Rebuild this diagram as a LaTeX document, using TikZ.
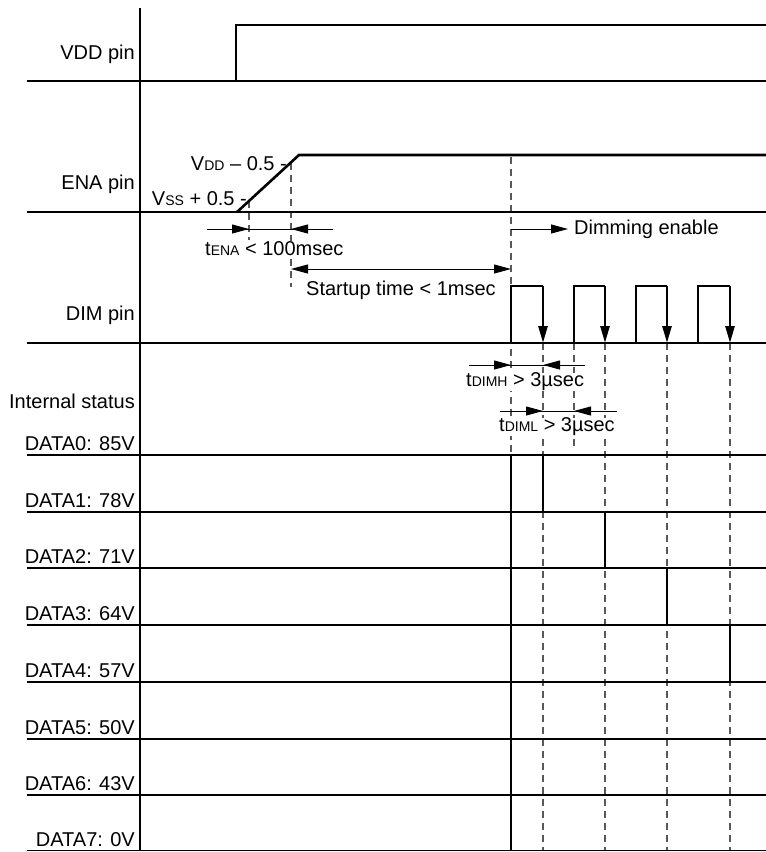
\documentclass[tikz,border=0pt]{standalone}
\usepackage{fontspec}
\setmainfont{Liberation Sans}
\usetikzlibrary{arrows.meta}
\newcommand{\sml}[1]{{\fontsize{14pt}{16pt}\selectfont #1}}

\begin{document}
\begin{tikzpicture}[line cap=butt,line join=miter,>={Triangle[length=17pt,width=9pt]},x=1pt,y=-1pt,
  font=\fontsize{20pt}{24pt}\selectfont,
  grid/.style={line width=1.1pt},
  wave/.style={line width=2.6pt},
  guide/.style={line width=1.2pt,black!65,dash pattern=on 7pt off 5pt},
  dimarrow/.style={line width=1pt},
  lbl/.style={anchor=base east,inner sep=0pt},
  txt/.style={anchor=base west,inner sep=0pt,fill=white}]
\useasboundingbox (0.,0.) rectangle (766.,852.);

% guide lines
\draw [guide] (249.,201.)-- (249.,240.);
\draw [guide] (291.,163.)-- (291.,287.);
\draw [guide] (511.,157.)-- (511.,455.);
\draw [guide] (543.,343.)-- (543.,851.);
\draw [guide] (574.,343.)-- (574.,447.);
\draw [guide] (605.,343.)-- (605.,851.);
\draw [guide] (667.,343.)-- (667.,851.);
\draw [guide] (730.,343.)-- (730.,851.);

% rows
\draw [grid] (140.,8.)-- (140.,851.);
\draw [grid] (27.,81.)-- (766.,81.);
\draw [grid] (27.,212.)-- (766.,212.);
\draw [grid] (27.,343.)-- (766.,343.);
\draw [grid] (27.,455.)-- (766.,455.);
\draw [grid] (27.,512.)-- (766.,512.);
\draw [grid] (27.,568.)-- (766.,568.);
\draw [grid] (27.,625.)-- (766.,625.);
\draw [grid] (27.,682.)-- (766.,682.);
\draw [grid] (27.,739.)-- (766.,739.);
\draw [grid] (27.,795.)-- (766.,795.);
\draw [grid] (27.,850.5)-- (766.,850.5);

\node [lbl] (vddpin) at (135.,59.) {VDD pin};
\node [lbl] (enapin) at (135.,189.) {ENA pin};
\node [lbl] (dimpin) at (135.,320.) {DIM pin};
\node [lbl] (intstat) at (135.,408.5) {Internal status};
\node [lbl] (data0) at (135.,450.5) {DATA0: 85V};
\node [lbl] (data1) at (135.,507.) {DATA1: 78V};
\node [lbl] (data2) at (135.,563.5) {DATA2: 71V};
\node [lbl] (data3) at (135.,620.) {DATA3: 64V};
\node [lbl] (data4) at (135.,677.) {DATA4: 57V};
\node [lbl] (data5) at (135.,734.) {DATA5: 50V};
\node [lbl] (data6) at (135.,790.) {DATA6: 43V};
\node [lbl] (data7) at (135.,846.) {DATA7: 0V};

% VDD and ENA
\draw [wave] (236.,81.)-- (236.,25.)-- (766.,25.);
\draw [wave] (237.,212.)-- (299.,155.)-- (766.,155.);
\node [lbl] (vddlev) at (287.,170.5) {V\sml{DD} -- 0.5 -};
\node [lbl] (vsslev) at (247.,205.5) {V\sml{SS} + 0.5 -};

% tENA
\draw [dimarrow] (207.,229.)-- (333.,229.);
\draw [dimarrow,->] (207.,229.)-- (249.,229.);
\draw [dimarrow,->] (333.,229.)-- (291.,229.);
\node [txt] (tena) at (205.,255.) {t\sml{ENA} < 100msec};

% startup
\draw [dimarrow,<->] (291.,269.)-- (511.,269.);
\node [txt] (startup) at (306.,295.5) {Startup time < 1msec};
\draw [dimarrow,->] (511.,229.)-- (568.,229.);
\node [txt] (dimen) at (574.,234.) {Dimming enable};

% DIM pulses
\draw [wave] (511.,343.)-- (511.,286.)-- (543.,286.);
\draw [wave,->] (543.,286.)-- (543.,343.);
\draw [wave] (574.,343.)-- (574.,286.)-- (605.,286.);
\draw [wave,->] (605.,286.)-- (605.,343.);
\draw [wave] (636.,343.)-- (636.,286.)-- (667.,286.);
\draw [wave,->] (667.,286.)-- (667.,343.);
\draw [wave] (698.,343.)-- (698.,286.)-- (730.,286.);
\draw [wave,->] (730.,286.)-- (730.,343.);

% tDIMH / tDIML
\draw [dimarrow] (469.,365.)-- (585.,365.);
\draw [dimarrow,->] (469.,365.)-- (511.,365.);
\draw [dimarrow,->] (585.,365.)-- (543.,365.);
\node [txt] (tdimh) at (466.,386.5) {t\sml{DIMH} > 3µsec};
\draw [dimarrow] (500.,411.)-- (617.,411.);
\draw [dimarrow,->] (500.,411.)-- (543.,411.);
\draw [dimarrow,->] (617.,411.)-- (574.,411.);
\node [txt] (tdiml) at (499.,431.5) {t\sml{DIML} > 3µsec};

% internal status
\draw [wave] (511.,851.)-- (511.,455.)-- (543.,455.)-- (543.,512.)-- (605.,512.)-- (605.,568.)-- (667.,568.)-- (667.,625.)-- (730.,625.)-- (730.,682.)-- (766.,682.);
\end{tikzpicture}
\end{document}
